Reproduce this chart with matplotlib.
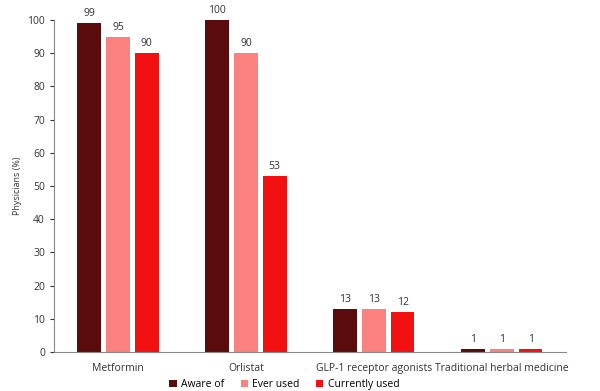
import matplotlib
matplotlib.use("Agg")
import matplotlib.pyplot as plt
import numpy as np

plt.rcParams['font.family'] = ['Open Sans', 'DejaVu Sans']

# data
categories = ["Metformin", "Orlistat", "GLP-1 receptor agonists", "Traditional herbal medicine"]
aware_of = [99, 100, 13, 1]
ever_used = [95, 90, 13, 1]
currently_used = [90, 53, 12, 1]
series_names = ["Aware of", "Ever used", "Currently used"]
colors = ["#5a0c0c", "#fb8080", "#f21010"]

fig = plt.figure(figsize=(6, 3.91), dpi=100)
ax = fig.add_axes([0.09, 0.1, 0.853, 0.849])

x = np.arange(len(categories))
w = 0.185
step = 0.225
for i, (vals, name, col) in enumerate(zip([aware_of, ever_used, currently_used], series_names, colors)):
    pos = x + (i - 1) * step
    ax.bar(pos, vals, width=w, color=col, label=name)
    for p, v in zip(pos, vals):
        ax.text(p, v + 1.2, str(v), ha="center", va="bottom", fontsize=7.5, color="#333333")

ax.set_xlim(-0.5, len(categories) - 0.5)
ax.set_ylim(0, 100)
ax.set_yticks(range(0, 101, 10))
ax.tick_params(axis="y", labelsize=7.5, length=3, colors="#333333")
ax.tick_params(axis="x", length=0, labelsize=7.5, pad=8, colors="#333333")
ax.set_xticks(x)
ax.set_xticklabels(categories)
ax.set_ylabel("Physicians (%)", fontsize=6.5, color="#333333")
for s in ["top", "right"]:
    ax.spines[s].set_visible(False)
ax.spines["left"].set_color("#888888")
ax.spines["bottom"].set_color("#888888")

ax.legend(loc="center", bbox_to_anchor=(0.45, -0.098), ncol=3, frameon=False,
          fontsize=7.5, handlelength=0.7, handleheight=0.7, columnspacing=1.6,
          handletextpad=0.4, borderpad=0.1)

fig.savefig("out.png", dpi=100, facecolor="white")
